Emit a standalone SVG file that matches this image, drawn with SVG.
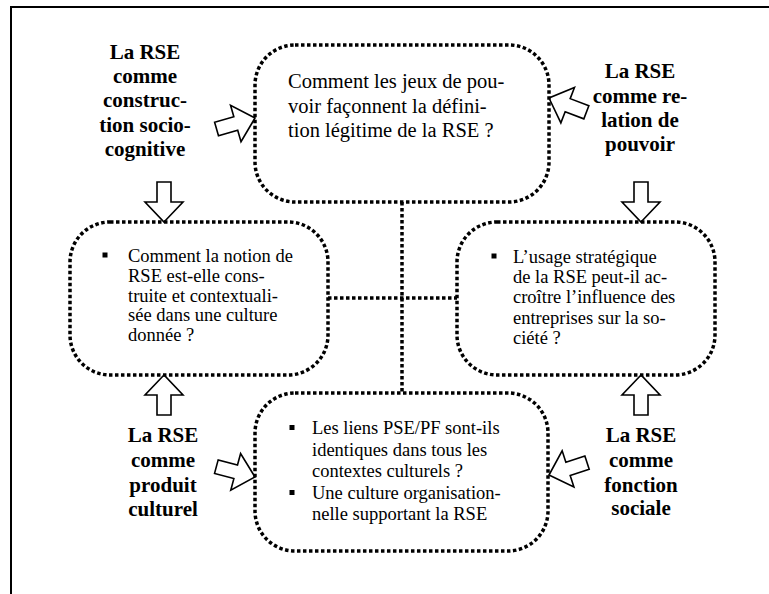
<svg xmlns="http://www.w3.org/2000/svg" width="769" height="594" viewBox="0 0 769 594">
<style>
.frame{fill:none;stroke:#000;stroke-width:2}
.box{fill:none;stroke:#000;stroke-width:3.5;stroke-dasharray:3.5 2.5}
.conn{fill:none;stroke:#000;stroke-width:3.5;stroke-dasharray:3.5 2.5}
.arrow{fill:#fff;stroke:#000;stroke-width:1.6}
.bul{fill:#000}
</style>
<rect width="769" height="594" fill="#fff"/>
<path class="frame" d="M11,594 L11,7 L769,7"/>

<g id="connectors">
<line class="conn" x1="402" y1="202" x2="402" y2="393"/>
<line class="conn" x1="328" y1="298" x2="457" y2="298"/>
</g>

<g id="arrows">
<path class="arrow" transform="translate(255,118) rotate(-16)" d="M0,0 L-20,-19 L-20,-7 L-40,-7 L-40,7 L-20,7 L-20,19 Z"/>
<path class="arrow" transform="translate(549,98) rotate(201)" d="M0,0 L-20,-19 L-20,-7 L-40,-7 L-40,7 L-20,7 L-20,19 Z"/>
<path class="arrow" transform="translate(255,477) rotate(15)" d="M0,0 L-20,-19 L-20,-7 L-40,-7 L-40,7 L-20,7 L-20,19 Z"/>
<path class="arrow" transform="translate(549,475) rotate(162)" d="M0,0 L-20,-19 L-20,-7 L-40,-7 L-40,7 L-20,7 L-20,19 Z"/>
<path class="arrow" transform="translate(164,222) rotate(90)" d="M0,0 L-20,-19 L-20,-7 L-40,-7 L-40,7 L-20,7 L-20,19 Z"/>
<path class="arrow" transform="translate(641,222) rotate(90)" d="M0,0 L-20,-19 L-20,-7 L-40,-7 L-40,7 L-20,7 L-20,19 Z"/>
<path class="arrow" transform="translate(164,375) rotate(-90)" d="M0,0 L-20,-19 L-20,-7 L-40,-7 L-40,7 L-20,7 L-20,19 Z"/>
<path class="arrow" transform="translate(641,375) rotate(-90)" d="M0,0 L-20,-19 L-20,-7 L-40,-7 L-40,7 L-20,7 L-20,19 Z"/>
</g>

<g id="node-top">
<rect class="box" x="255" y="45" width="294" height="157" rx="40"/>
<text x="288" y="88" font-size="20.5" font-family="Liberation Serif">Comment les jeux de pou-</text>
<text x="288" y="112.5" font-size="20.5" font-family="Liberation Serif">voir façonnent la défini-</text>
<text x="288" y="137" font-size="20.5" font-family="Liberation Serif">tion légitime de la RSE ?</text>
</g>

<g id="node-left">
<rect class="box" x="70" y="222" width="258" height="153" rx="40"/>
<rect class="bul" x="102.5" y="252.5" width="5" height="5"/>
<text x="128" y="262" font-size="18.5" font-family="Liberation Serif">Comment la notion de</text>
<text x="128" y="281.75" font-size="18.5" font-family="Liberation Serif">RSE est-elle cons-</text>
<text x="128" y="301.5" font-size="18.5" font-family="Liberation Serif">truite et contextuali-</text>
<text x="128" y="321.25" font-size="18.5" font-family="Liberation Serif">sée dans une culture</text>
<text x="128" y="341" font-size="18.5" font-family="Liberation Serif">donnée ?</text>
</g>

<g id="node-right">
<rect class="box" x="457" y="222" width="258" height="153" rx="40"/>
<rect class="bul" x="491.5" y="253.5" width="5" height="5"/>
<text x="513" y="263" font-size="18.5" font-family="Liberation Serif">L’usage stratégique</text>
<text x="513" y="283" font-size="18.5" font-family="Liberation Serif">de la RSE peut-il ac-</text>
<text x="513" y="303" font-size="18.5" font-family="Liberation Serif">croître l’influence des</text>
<text x="513" y="323.5" font-size="18.5" font-family="Liberation Serif">entreprises sur la so-</text>
<text x="513" y="344" font-size="18.5" font-family="Liberation Serif">ciété ?</text>
</g>

<g id="node-bottom">
<rect class="box" x="255" y="393" width="293" height="158" rx="40"/>
<rect class="bul" x="289.5" y="425" width="5" height="5"/>
<rect class="bul" x="289.5" y="490" width="5" height="5"/>
<text x="312" y="434" font-size="18.5" font-family="Liberation Serif">Les liens PSE/PF sont-ils</text>
<text x="312" y="455.5" font-size="18.5" font-family="Liberation Serif">identiques dans tous les</text>
<text x="312" y="477" font-size="18.5" font-family="Liberation Serif">contextes culturels ?</text>
<text x="312" y="498.5" font-size="18.5" font-family="Liberation Serif">Une culture organisation-</text>
<text x="312" y="520" font-size="18.5" font-family="Liberation Serif">nelle supportant la RSE</text>
</g>

<g id="label-construction">
<text x="145" y="58.5" text-anchor="middle" font-size="21" font-weight="bold" font-family="Liberation Serif">La RSE</text>
<text x="145" y="83" text-anchor="middle" font-size="21" font-weight="bold" font-family="Liberation Serif">comme</text>
<text x="145" y="107" text-anchor="middle" font-size="21" font-weight="bold" font-family="Liberation Serif">construc-</text>
<text x="145" y="131.5" text-anchor="middle" font-size="21" font-weight="bold" font-family="Liberation Serif">tion socio-</text>
<text x="145" y="156" text-anchor="middle" font-size="21" font-weight="bold" font-family="Liberation Serif">cognitive</text>
</g>

<g id="label-pouvoir">
<text x="640" y="78" text-anchor="middle" font-size="21" font-weight="bold" font-family="Liberation Serif">La RSE</text>
<text x="640" y="102.5" text-anchor="middle" font-size="21" font-weight="bold" font-family="Liberation Serif">comme re-</text>
<text x="640" y="127" text-anchor="middle" font-size="21" font-weight="bold" font-family="Liberation Serif">lation de</text>
<text x="640" y="151" text-anchor="middle" font-size="21" font-weight="bold" font-family="Liberation Serif">pouvoir</text>
</g>

<g id="label-culturel">
<text x="163" y="442" text-anchor="middle" font-size="21" font-weight="bold" font-family="Liberation Serif">La RSE</text>
<text x="163" y="467" text-anchor="middle" font-size="21" font-weight="bold" font-family="Liberation Serif">comme</text>
<text x="163" y="492" text-anchor="middle" font-size="21" font-weight="bold" font-family="Liberation Serif">produit</text>
<text x="163" y="516" text-anchor="middle" font-size="21" font-weight="bold" font-family="Liberation Serif">culturel</text>
</g>

<g id="label-sociale">
<text x="641" y="442" text-anchor="middle" font-size="21" font-weight="bold" font-family="Liberation Serif">La RSE</text>
<text x="641" y="467" text-anchor="middle" font-size="21" font-weight="bold" font-family="Liberation Serif">comme</text>
<text x="641" y="492" text-anchor="middle" font-size="21" font-weight="bold" font-family="Liberation Serif">fonction</text>
<text x="641" y="515" text-anchor="middle" font-size="21" font-weight="bold" font-family="Liberation Serif">sociale</text>
</g>
</svg>
